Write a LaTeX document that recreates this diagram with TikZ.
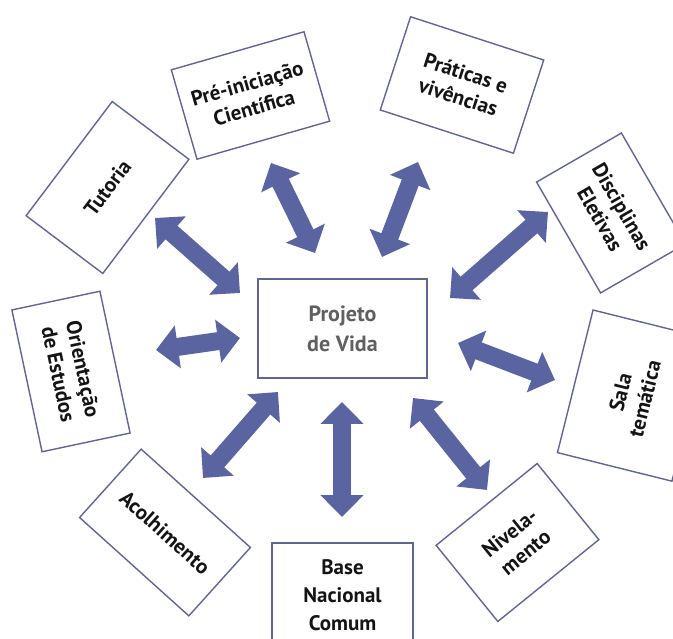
\documentclass[tikz,border=0pt]{standalone}
\usepackage{fontspec}
\setmainfont{PT Sans}
\usetikzlibrary{arrows.meta}
\definecolor{arrowblue}{HTML}{5A64A0}
\definecolor{boxline}{HTML}{62668F}
\definecolor{txt}{HTML}{141414}
\definecolor{ctxt}{HTML}{606060}
\begin{document}
\begin{tikzpicture}[x=1pt,y=-1pt,
  box/.style={draw=boxline, line width=1.4pt, fill=white, minimum width=140pt, minimum height=96pt,
    align=center, font=\bfseries\fontsize{21}{25}\selectfont, text=txt, inner sep=0pt},
  dblarrow/.style={draw=arrowblue, line width=18pt,
    {Triangle[width=42pt,length=22pt]}-{Triangle[width=42pt,length=22pt]}}]
\useasboundingbox (0,0) rectangle (673,639);
\clip (0,0) rectangle (673,639);
\fill[white] (0,0) rectangle (673,639);

% nodes
\node[box, minimum width=169pt, minimum height=99pt, text=ctxt, line width=2pt,
      font=\bfseries\fontsize{22}{30}\selectfont] (pv) at (342.5,328.5) {Projeto\\de Vida};
\node[box, rotate=16, minimum width=138pt, minimum height=93pt] (pic) at (250.5,95.5) {Pré-iniciação\\Científica};
\node[box, rotate=-18, minimum width=140pt, minimum height=98pt] (pra) at (462,85) {Práticas e\\vivências};
\node[box, rotate=53, minimum width=143pt, minimum height=96pt] (tut) at (107.5,187.5) {Tutoria};
\node[box, rotate=-60, minimum width=128pt, minimum height=98pt] (dis) at (611,213) {Disciplinas\\Eletivas};
\node[box, rotate=-78, minimum width=145pt, minimum height=90pt] (ori) at (71,371.5) {Orientação\\de Estudos};
\node[box, rotate=76, minimum width=147pt, minimum height=118pt] (sal) at (632.5,395.6) {Sala\\temática};
\node[box, rotate=-42, minimum width=147pt, minimum height=92pt] (aco) at (165,532.5) {Acolhimento};
\node[box, minimum width=141pt, minimum height=104pt, font=\bfseries\fontsize{21}{28}\selectfont] (bnc) at (342.5,595) {Base\\Nacional\\Comum};
\node[box, rotate=39, minimum width=130pt, minimum height=98pt] (niv) at (517.5,542.5) {Nivela-\\mento};

% arrow end points
\coordinate (tutA) at (155,218);  \coordinate (tutB) at (240,293);
\coordinate (picA) at (271,163);  \coordinate (picB) at (315,253);
\coordinate (praA) at (418,162);  \coordinate (praB) at (382,257);
\coordinate (disA) at (548,212);  \coordinate (disB) at (450,298);
\coordinate (oriA) at (156,350);  \coordinate (oriB) at (240,338);
\coordinate (salA) at (458,343);  \coordinate (salB) at (555,380);
\coordinate (acoA) at (278,392);  \coordinate (acoB) at (203,478);
\coordinate (bncA) at (342,402);  \coordinate (bncB) at (342,517);
\coordinate (nivA) at (413,398);  \coordinate (nivB) at (487,490);

\draw[dblarrow] (tutA) -- (tutB);
\draw[dblarrow] (picA) -- (picB);
\draw[dblarrow] (praA) -- (praB);
\draw[dblarrow] (disA) -- (disB);
\draw[dblarrow] (oriA) -- (oriB);
\draw[dblarrow] (salA) -- (salB);
\draw[dblarrow] (acoA) -- (acoB);
\draw[dblarrow] (bncA) -- (bncB);
\draw[dblarrow] (nivA) -- (nivB);
\end{tikzpicture}
\end{document}
